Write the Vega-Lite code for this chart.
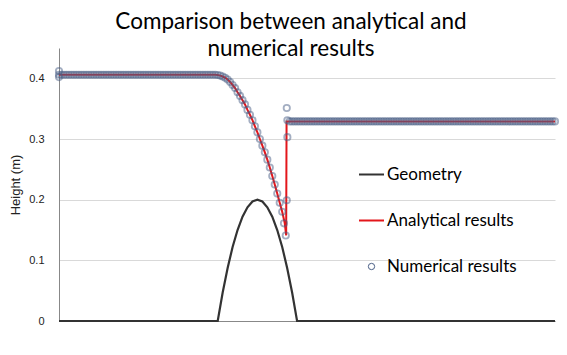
{
  "$schema": "https://vega.github.io/schema/vega-lite/v6.json",
  "width": 496,
  "height": 273,
  "autosize": {"type": "none"},
  "padding": {"left": 59, "top": 48, "right": 12, "bottom": 34},
  "background": "white",
  "title": {
    "text": ["Comparison between analytical  and", "numerical results"],
    "font": "Lato", "fontSize": 22.5, "fontWeight": "normal", "color": "#000000",
    "anchor": "middle", "dx": -16, "offset": -12, "lineHeight": 27
  },
  "config": {
    "view": {"stroke": null},
    "axis": {"labelFont": "Liberation Sans", "titleFont": "Liberation Sans"},
    "legend": {
      "orient": "none", "legendX": 304, "legendY": 118, "padding": 0, "gridAlign": "all",
      "rowPadding": 28, "labelFont": "Lato", "labelFontSize": 17, "labelColor": "#000000",
      "labelOffset": 7, "symbolStrokeWidth": 2, "title": null
    }
  },
  "datasets": {
    "geo": [
      {"series":"Geometry","x":0,"h":0},{"series":"Geometry","x":8,"h":0},
      {"series":"Geometry","x":8.25,"h":0.047},{"series":"Geometry","x":8.5,"h":0.0875},
      {"series":"Geometry","x":8.75,"h":0.122},{"series":"Geometry","x":9,"h":0.15},
      {"series":"Geometry","x":9.25,"h":0.172},{"series":"Geometry","x":9.5,"h":0.1875},
      {"series":"Geometry","x":9.75,"h":0.197},{"series":"Geometry","x":10,"h":0.2},
      {"series":"Geometry","x":10.25,"h":0.197},{"series":"Geometry","x":10.5,"h":0.1875},
      {"series":"Geometry","x":10.75,"h":0.172},{"series":"Geometry","x":11,"h":0.15},
      {"series":"Geometry","x":11.25,"h":0.122},{"series":"Geometry","x":11.5,"h":0.0875},
      {"series":"Geometry","x":11.75,"h":0.047},{"series":"Geometry","x":12,"h":0},
      {"series":"Geometry","x":25,"h":0}
    ],
    "ana": [
      {"series":"Analytical results","x":0,"h":0.406},{"series":"Analytical results","x":7.875,"h":0.406},
      {"series":"Analytical results","x":8,"h":0.4055},{"series":"Analytical results","x":8.125,"h":0.4045},
      {"series":"Analytical results","x":8.25,"h":0.403},{"series":"Analytical results","x":8.375,"h":0.401},
      {"series":"Analytical results","x":8.5,"h":0.398},{"series":"Analytical results","x":8.625,"h":0.394},
      {"series":"Analytical results","x":8.75,"h":0.389},{"series":"Analytical results","x":8.875,"h":0.384},
      {"series":"Analytical results","x":9,"h":0.377},{"series":"Analytical results","x":9.125,"h":0.371},
      {"series":"Analytical results","x":9.25,"h":0.364},{"series":"Analytical results","x":9.375,"h":0.357},
      {"series":"Analytical results","x":9.5,"h":0.348},{"series":"Analytical results","x":9.625,"h":0.34},
      {"series":"Analytical results","x":9.75,"h":0.331},{"series":"Analytical results","x":9.875,"h":0.321},
      {"series":"Analytical results","x":10,"h":0.311},{"series":"Analytical results","x":10.125,"h":0.3},
      {"series":"Analytical results","x":10.25,"h":0.289},{"series":"Analytical results","x":10.375,"h":0.278},
      {"series":"Analytical results","x":10.5,"h":0.266},{"series":"Analytical results","x":10.625,"h":0.253},
      {"series":"Analytical results","x":10.75,"h":0.239},{"series":"Analytical results","x":10.875,"h":0.225},
      {"series":"Analytical results","x":11,"h":0.21},{"series":"Analytical results","x":11.125,"h":0.195},
      {"series":"Analytical results","x":11.25,"h":0.18},{"series":"Analytical results","x":11.375,"h":0.162},
      {"series":"Analytical results","x":11.45,"h":0.141},{"series":"Analytical results","x":11.47,"h":0.329},
      {"series":"Analytical results","x":25,"h":0.329}
    ],
    "num": [
      {"series":"Numerical results","x":0,"h":0.412},{"series":"Numerical results","x":0,"h":0.402},
      {"series":"Numerical results","x":0,"h":0.406},{"series":"Numerical results","x":0.125,"h":0.406},{"series":"Numerical results","x":0.25,"h":0.406},{"series":"Numerical results","x":0.375,"h":0.406},
      {"series":"Numerical results","x":0.5,"h":0.406},{"series":"Numerical results","x":0.625,"h":0.406},{"series":"Numerical results","x":0.75,"h":0.406},{"series":"Numerical results","x":0.875,"h":0.406},
      {"series":"Numerical results","x":1,"h":0.406},{"series":"Numerical results","x":1.125,"h":0.406},{"series":"Numerical results","x":1.25,"h":0.406},{"series":"Numerical results","x":1.375,"h":0.406},
      {"series":"Numerical results","x":1.5,"h":0.406},{"series":"Numerical results","x":1.625,"h":0.406},{"series":"Numerical results","x":1.75,"h":0.406},{"series":"Numerical results","x":1.875,"h":0.406},
      {"series":"Numerical results","x":2,"h":0.406},{"series":"Numerical results","x":2.125,"h":0.406},{"series":"Numerical results","x":2.25,"h":0.406},{"series":"Numerical results","x":2.375,"h":0.406},
      {"series":"Numerical results","x":2.5,"h":0.406},{"series":"Numerical results","x":2.625,"h":0.406},{"series":"Numerical results","x":2.75,"h":0.406},{"series":"Numerical results","x":2.875,"h":0.406},
      {"series":"Numerical results","x":3,"h":0.406},{"series":"Numerical results","x":3.125,"h":0.406},{"series":"Numerical results","x":3.25,"h":0.406},{"series":"Numerical results","x":3.375,"h":0.406},
      {"series":"Numerical results","x":3.5,"h":0.406},{"series":"Numerical results","x":3.625,"h":0.406},{"series":"Numerical results","x":3.75,"h":0.406},{"series":"Numerical results","x":3.875,"h":0.406},
      {"series":"Numerical results","x":4,"h":0.406},{"series":"Numerical results","x":4.125,"h":0.406},{"series":"Numerical results","x":4.25,"h":0.406},{"series":"Numerical results","x":4.375,"h":0.406},
      {"series":"Numerical results","x":4.5,"h":0.406},{"series":"Numerical results","x":4.625,"h":0.406},{"series":"Numerical results","x":4.75,"h":0.406},{"series":"Numerical results","x":4.875,"h":0.406},
      {"series":"Numerical results","x":5,"h":0.406},{"series":"Numerical results","x":5.125,"h":0.406},{"series":"Numerical results","x":5.25,"h":0.406},{"series":"Numerical results","x":5.375,"h":0.406},
      {"series":"Numerical results","x":5.5,"h":0.406},{"series":"Numerical results","x":5.625,"h":0.406},{"series":"Numerical results","x":5.75,"h":0.406},{"series":"Numerical results","x":5.875,"h":0.406},
      {"series":"Numerical results","x":6,"h":0.406},{"series":"Numerical results","x":6.125,"h":0.406},{"series":"Numerical results","x":6.25,"h":0.406},{"series":"Numerical results","x":6.375,"h":0.406},
      {"series":"Numerical results","x":6.5,"h":0.406},{"series":"Numerical results","x":6.625,"h":0.406},{"series":"Numerical results","x":6.75,"h":0.406},{"series":"Numerical results","x":6.875,"h":0.406},
      {"series":"Numerical results","x":7,"h":0.406},{"series":"Numerical results","x":7.125,"h":0.406},{"series":"Numerical results","x":7.25,"h":0.406},{"series":"Numerical results","x":7.375,"h":0.406},
      {"series":"Numerical results","x":7.5,"h":0.406},{"series":"Numerical results","x":7.625,"h":0.406},{"series":"Numerical results","x":7.75,"h":0.406},{"series":"Numerical results","x":7.875,"h":0.406},
      {"series":"Numerical results","x":8,"h":0.4055},{"series":"Numerical results","x":8.125,"h":0.4045},{"series":"Numerical results","x":8.25,"h":0.403},{"series":"Numerical results","x":8.375,"h":0.401},
      {"series":"Numerical results","x":8.5,"h":0.398},{"series":"Numerical results","x":8.625,"h":0.394},{"series":"Numerical results","x":8.75,"h":0.389},{"series":"Numerical results","x":8.875,"h":0.384},
      {"series":"Numerical results","x":9,"h":0.377},{"series":"Numerical results","x":9.125,"h":0.371},{"series":"Numerical results","x":9.25,"h":0.364},{"series":"Numerical results","x":9.375,"h":0.357},
      {"series":"Numerical results","x":9.5,"h":0.348},{"series":"Numerical results","x":9.625,"h":0.34},{"series":"Numerical results","x":9.75,"h":0.331},{"series":"Numerical results","x":9.875,"h":0.321},
      {"series":"Numerical results","x":10,"h":0.311},{"series":"Numerical results","x":10.125,"h":0.3},{"series":"Numerical results","x":10.25,"h":0.289},{"series":"Numerical results","x":10.375,"h":0.278},
      {"series":"Numerical results","x":10.5,"h":0.266},{"series":"Numerical results","x":10.625,"h":0.253},{"series":"Numerical results","x":10.75,"h":0.239},{"series":"Numerical results","x":10.875,"h":0.225},
      {"series":"Numerical results","x":11,"h":0.21},{"series":"Numerical results","x":11.125,"h":0.195},{"series":"Numerical results","x":11.25,"h":0.18},{"series":"Numerical results","x":11.34,"h":0.161},
      {"series":"Numerical results","x":11.43,"h":0.141},{"series":"Numerical results","x":11.48,"h":0.199},{"series":"Numerical results","x":11.51,"h":0.303},{"series":"Numerical results","x":11.51,"h":0.331},
      {"series":"Numerical results","x":11.48,"h":0.351},
      {"series":"Numerical results","x":11.625,"h":0.329},{"series":"Numerical results","x":11.75,"h":0.329},{"series":"Numerical results","x":11.875,"h":0.329},{"series":"Numerical results","x":12,"h":0.329},
      {"series":"Numerical results","x":12.125,"h":0.329},{"series":"Numerical results","x":12.25,"h":0.329},{"series":"Numerical results","x":12.375,"h":0.329},{"series":"Numerical results","x":12.5,"h":0.329},
      {"series":"Numerical results","x":12.625,"h":0.329},{"series":"Numerical results","x":12.75,"h":0.329},{"series":"Numerical results","x":12.875,"h":0.329},{"series":"Numerical results","x":13,"h":0.329},
      {"series":"Numerical results","x":13.125,"h":0.329},{"series":"Numerical results","x":13.25,"h":0.329},{"series":"Numerical results","x":13.375,"h":0.329},{"series":"Numerical results","x":13.5,"h":0.329},
      {"series":"Numerical results","x":13.625,"h":0.329},{"series":"Numerical results","x":13.75,"h":0.329},{"series":"Numerical results","x":13.875,"h":0.329},{"series":"Numerical results","x":14,"h":0.329},
      {"series":"Numerical results","x":14.125,"h":0.329},{"series":"Numerical results","x":14.25,"h":0.329},{"series":"Numerical results","x":14.375,"h":0.329},{"series":"Numerical results","x":14.5,"h":0.329},
      {"series":"Numerical results","x":14.625,"h":0.329},{"series":"Numerical results","x":14.75,"h":0.329},{"series":"Numerical results","x":14.875,"h":0.329},{"series":"Numerical results","x":15,"h":0.329},
      {"series":"Numerical results","x":15.125,"h":0.329},{"series":"Numerical results","x":15.25,"h":0.329},{"series":"Numerical results","x":15.375,"h":0.329},{"series":"Numerical results","x":15.5,"h":0.329},
      {"series":"Numerical results","x":15.625,"h":0.329},{"series":"Numerical results","x":15.75,"h":0.329},{"series":"Numerical results","x":15.875,"h":0.329},{"series":"Numerical results","x":16,"h":0.329},
      {"series":"Numerical results","x":16.125,"h":0.329},{"series":"Numerical results","x":16.25,"h":0.329},{"series":"Numerical results","x":16.375,"h":0.329},{"series":"Numerical results","x":16.5,"h":0.329},
      {"series":"Numerical results","x":16.625,"h":0.329},{"series":"Numerical results","x":16.75,"h":0.329},{"series":"Numerical results","x":16.875,"h":0.329},{"series":"Numerical results","x":17,"h":0.329},
      {"series":"Numerical results","x":17.125,"h":0.329},{"series":"Numerical results","x":17.25,"h":0.329},{"series":"Numerical results","x":17.375,"h":0.329},{"series":"Numerical results","x":17.5,"h":0.329},
      {"series":"Numerical results","x":17.625,"h":0.329},{"series":"Numerical results","x":17.75,"h":0.329},{"series":"Numerical results","x":17.875,"h":0.329},{"series":"Numerical results","x":18,"h":0.329},
      {"series":"Numerical results","x":18.125,"h":0.329},{"series":"Numerical results","x":18.25,"h":0.329},{"series":"Numerical results","x":18.375,"h":0.329},{"series":"Numerical results","x":18.5,"h":0.329},
      {"series":"Numerical results","x":18.625,"h":0.329},{"series":"Numerical results","x":18.75,"h":0.329},{"series":"Numerical results","x":18.875,"h":0.329},{"series":"Numerical results","x":19,"h":0.329},
      {"series":"Numerical results","x":19.125,"h":0.329},{"series":"Numerical results","x":19.25,"h":0.329},{"series":"Numerical results","x":19.375,"h":0.329},{"series":"Numerical results","x":19.5,"h":0.329},
      {"series":"Numerical results","x":19.625,"h":0.329},{"series":"Numerical results","x":19.75,"h":0.329},{"series":"Numerical results","x":19.875,"h":0.329},{"series":"Numerical results","x":20,"h":0.329},
      {"series":"Numerical results","x":20.125,"h":0.329},{"series":"Numerical results","x":20.25,"h":0.329},{"series":"Numerical results","x":20.375,"h":0.329},{"series":"Numerical results","x":20.5,"h":0.329},
      {"series":"Numerical results","x":20.625,"h":0.329},{"series":"Numerical results","x":20.75,"h":0.329},{"series":"Numerical results","x":20.875,"h":0.329},{"series":"Numerical results","x":21,"h":0.329},
      {"series":"Numerical results","x":21.125,"h":0.329},{"series":"Numerical results","x":21.25,"h":0.329},{"series":"Numerical results","x":21.375,"h":0.329},{"series":"Numerical results","x":21.5,"h":0.329},
      {"series":"Numerical results","x":21.625,"h":0.329},{"series":"Numerical results","x":21.75,"h":0.329},{"series":"Numerical results","x":21.875,"h":0.329},{"series":"Numerical results","x":22,"h":0.329},
      {"series":"Numerical results","x":22.125,"h":0.329},{"series":"Numerical results","x":22.25,"h":0.329},{"series":"Numerical results","x":22.375,"h":0.329},{"series":"Numerical results","x":22.5,"h":0.329},
      {"series":"Numerical results","x":22.625,"h":0.329},{"series":"Numerical results","x":22.75,"h":0.329},{"series":"Numerical results","x":22.875,"h":0.329},{"series":"Numerical results","x":23,"h":0.329},
      {"series":"Numerical results","x":23.125,"h":0.329},{"series":"Numerical results","x":23.25,"h":0.329},{"series":"Numerical results","x":23.375,"h":0.329},{"series":"Numerical results","x":23.5,"h":0.329},
      {"series":"Numerical results","x":23.625,"h":0.329},{"series":"Numerical results","x":23.75,"h":0.329},{"series":"Numerical results","x":23.875,"h":0.329},{"series":"Numerical results","x":24,"h":0.329},
      {"series":"Numerical results","x":24.125,"h":0.329},{"series":"Numerical results","x":24.25,"h":0.329},{"series":"Numerical results","x":24.375,"h":0.329},{"series":"Numerical results","x":24.5,"h":0.329},
      {"series":"Numerical results","x":24.625,"h":0.329},{"series":"Numerical results","x":24.75,"h":0.329},{"series":"Numerical results","x":24.875,"h":0.329},{"series":"Numerical results","x":25,"h":0.329}
    ]
  },
  "encoding": {
    "x": {"field": "x", "type": "quantitative", "scale": {"domain": [0, 25], "nice": false, "zero": false},
      "axis": {"labels": false, "ticks": false, "grid": false, "title": null, "domainColor": "#888888"}},
    "y": {"field": "h", "type": "quantitative", "scale": {"domain": [0, 0.45], "nice": false},
      "axis": {"values": [0, 0.1, 0.2, 0.3, 0.4], "labelExpr": "datum.value == 0 ? '0' : format(datum.value, '.1f')",
        "title": "Height (m)", "titleFontSize": 13, "titleFontWeight": "normal", "titleColor": "#222222",
        "titlePadding": 6, "labelFontSize": 11, "labelColor": "#222222", "labelPadding": 15, "ticks": false,
        "domainColor": "#888888", "gridColor": "#d9d9d9", "grid": true}},
    "color": {"field": "series", "type": "nominal",
      "scale": {"domain": ["Geometry", "Analytical results", "Numerical results"], "range": ["#333333", "#e3161b", "#4a5f86"]},
      "legend": {"symbolOpacity": 1,
        "encode": {"symbols": {"update": {
          "opacity": {"value": 1},
          "strokeWidth": {"signal": "datum.value === 'Numerical results' ? 1 : 2"},
          "stroke": {"signal": "datum.value === 'Numerical results' ? '#b0b0b0' : datum.value === 'Geometry' ? '#333333' : '#e3161b'"}
        }}}}}
  },
  "layer": [
    {"data": {"name": "geo"}, "mark": {"type": "line", "strokeWidth": 2.2}},
    {"data": {"name": "ana"}, "mark": {"type": "line", "strokeWidth": 2}},
    {"data": {"name": "num"}, "mark": {"type": "point", "filled": false, "strokeWidth": 1.8, "opacity": 0.5},
      "encoding": {
        "shape": {"field": "series", "type": "nominal", "scale": {"domain": ["Geometry", "Analytical results", "Numerical results"], "range": ["stroke", "stroke", "circle"]},
          "legend": {"symbolOpacity": 1,
            "encode": {"symbols": {"update": {
              "opacity": {"value": 1},
              "strokeWidth": {"signal": "datum.value === 'Numerical results' ? 1 : 2"},
              "stroke": {"signal": "datum.value === 'Numerical results' ? '#b0b0b0' : datum.value === 'Geometry' ? '#333333' : '#e3161b'"}
            }}}}},
        "size": {"field": "series", "type": "nominal", "scale": {"type": "ordinal", "domain": ["Geometry", "Analytical results", "Numerical results"], "range": [625, 625, 40]},
          "legend": {"symbolOpacity": 1,
            "encode": {"symbols": {"update": {
              "opacity": {"value": 1},
              "strokeWidth": {"signal": "datum.value === 'Numerical results' ? 1 : 2"},
              "stroke": {"signal": "datum.value === 'Numerical results' ? '#b0b0b0' : datum.value === 'Geometry' ? '#333333' : '#e3161b'"}
            }}}}}
      }}
  ]
}
